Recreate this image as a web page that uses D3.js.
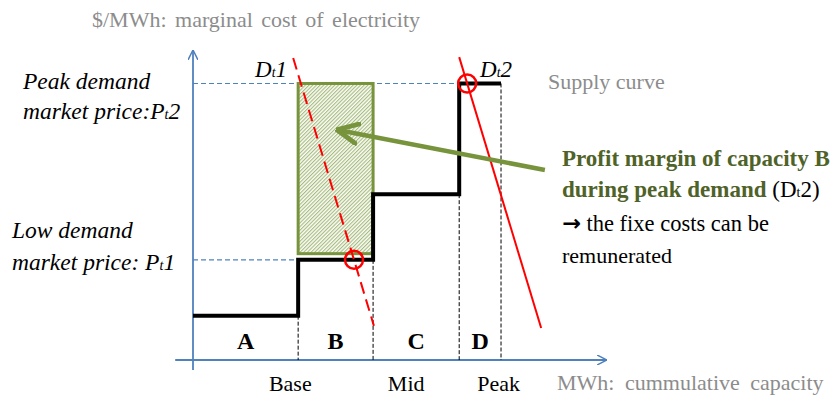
<!DOCTYPE html>
<html lang="en">
<head>
<meta charset="UTF-8">
<title>Supply curve</title>
<script src="https://d3js.org/d3.v7.min.js"></script>
<style>
    *{ margin: 0; padding: 0; }
    body{ background: #fff; }
</style>
</head>
<body>
<div id="content"></div>
<script>
    // capacity blocks (cumulative MWh, arbitrary units) and marginal cost ($/MWh)
    var blocks = ["A", "B", "C", "D"];
    var capBounds = [0, 25.4, 43.5, 64.3, 74.4];
    var costs = [14.3, 32.3, 53.5, 89.2];
    var priceLow = 32.3;   // Pt1
    var priceHigh = 89.2;  // Pt2
    var techLabels = ["Base", "Mid", "Peak"];
    var techPos = [23.5, 51.5, 73.8];
    // demand curves, [x, y] end points
    var demand1 = [[24.2, 97.4], [43.7, 11.0]];
    var demand2 = [[64.3, 97.7], [84.1, 10.3]];
    var arrowPts = [[85, 61.3], [35, 74.2]];

    var width = 835, height = 401;
    var serif = "'Liberation Serif', 'Times New Roman', 'DejaVu Serif', serif";
    var svg = d3.select("#content").append("svg")
        .attr("width", width).attr("height", height)
        .attr("font-family", serif);

    var xScale = d3.scaleLinear().domain([0, 100]).range([193, 607]);
    var yScale = d3.scaleLinear().domain([0, 100]).range([360, 50]);

    var defs = svg.append("defs");
    defs.append("marker").attr("id", "axArrow")
        .attr("viewBox", "0 0 10 10").attr("refX", 10).attr("refY", 5)
        .attr("markerWidth", 10).attr("markerHeight", 10)
        .attr("markerUnits", "userSpaceOnUse").attr("orient", "auto")
        .append("path").attr("d", "M0,0 L10,5 L0,10")
        .attr("fill", "none").attr("stroke", "#4f81bd").attr("stroke-width", 1.5);
    defs.append("marker").attr("id", "greenArrow")
        .attr("viewBox", "0 0 10 10").attr("refX", 9).attr("refY", 5)
        .attr("markerWidth", 24).attr("markerHeight", 24)
        .attr("markerUnits", "userSpaceOnUse").attr("orient", "auto")
        .append("path").attr("d", "M0,0.5 L9.5,5 L0,9.5")
        .attr("fill", "none").attr("stroke", "#77933c").attr("stroke-width", 2)
        .attr("stroke-linejoin", "miter");
    // fine diagonal hatch
    var pat = defs.append("pattern").attr("id", "hatch")
        .attr("patternUnits", "userSpaceOnUse").attr("width", 2.6).attr("height", 2.6)
        .attr("patternTransform", "rotate(45)");
    pat.append("rect").attr("width", 2.6).attr("height", 2.6).attr("fill", "#fbfcf7");
    pat.append("rect").attr("width", 1.1).attr("height", 2.6).attr("fill", "#a6bb7e");

    // axes
    svg.append("line")
        .attr("x1", xScale(-4.3)).attr("y1", yScale(0))
        .attr("x2", xScale(100)).attr("y2", yScale(0))
        .attr("stroke", "#4f81bd").attr("stroke-width", 1.8)
        .attr("marker-end", "url(#axArrow)");
    svg.append("line")
        .attr("x1", xScale(0)).attr("y1", yScale(-3.2))
        .attr("x2", xScale(0)).attr("y2", yScale(100))
        .attr("stroke", "#4f81bd").attr("stroke-width", 1.8)
        .attr("marker-end", "url(#axArrow)");

    // price reference lines
    svg.append("line")
        .attr("x1", xScale(0)).attr("x2", xScale(capBounds[3]))
        .attr("y1", yScale(priceHigh)).attr("y2", yScale(priceHigh))
        .attr("stroke", "#4f81bd").attr("stroke-width", 1.2).attr("stroke-dasharray", "5,3");
    svg.append("line")
        .attr("x1", xScale(0)).attr("x2", xScale(capBounds[1]))
        .attr("y1", yScale(priceLow)).attr("y2", yScale(priceLow))
        .attr("stroke", "#4f81bd").attr("stroke-width", 1.2).attr("stroke-dasharray", "5,3");

    // block separators
    svg.selectAll(".sep").data(d3.range(1, capBounds.length)).enter().append("line")
        .attr("class", "sep")
        .attr("x1", function(i){ return xScale(capBounds[i]); })
        .attr("x2", function(i){ return xScale(capBounds[i]); })
        .attr("y1", function(i){ return yScale(costs[i - 1]); })
        .attr("y2", yScale(0))
        .attr("stroke", "#000").attr("stroke-width", 1).attr("stroke-dasharray", "4,2");

    // profit margin box
    svg.append("rect")
        .attr("x", xScale(capBounds[1])).attr("y", yScale(priceHigh))
        .attr("width", xScale(capBounds[2]) - xScale(capBounds[1]))
        .attr("height", yScale(costs[1] + 2) - yScale(priceHigh))
        .attr("fill", "url(#hatch)").attr("stroke", "#77933c").attr("stroke-width", 3);

    // supply curve (step)
    var stepPts = [];
    blocks.forEach(function(b, i){
        stepPts.push([capBounds[i], costs[i]]);
        stepPts.push([capBounds[i + 1], costs[i]]);
    });
    var line = d3.line()
        .x(function(d){ return xScale(d[0]); })
        .y(function(d){ return yScale(d[1]); });
    svg.append("path").attr("d", line(stepPts))
        .attr("fill", "none").attr("stroke", "#000").attr("stroke-width", 4)
        .attr("stroke-linejoin", "miter");

    // demand curves
    svg.append("path").attr("d", line(demand1))
        .attr("stroke", "#ff0000").attr("stroke-width", 2).attr("stroke-dasharray", "12,6");
    svg.append("path").attr("d", line(demand2))
        .attr("stroke", "#ff0000").attr("stroke-width", 2);

    // intersections
    function crossX(dm, y){
        var t = (y - dm[0][1]) / (dm[1][1] - dm[0][1]);
        return dm[0][0] + t * (dm[1][0] - dm[0][0]);
    }
    [[crossX(demand1, priceLow), priceLow], [crossX(demand2, priceHigh), priceHigh]].forEach(function(p){
        svg.append("circle")
            .attr("cx", xScale(p[0])).attr("cy", yScale(p[1])).attr("r", 9)
            .attr("fill", "none").attr("stroke", "#ff0000").attr("stroke-width", 2.5);
    });

    // green arrow
    svg.append("path").attr("d", line(arrowPts))
        .attr("stroke", "#77933c").attr("stroke-width", 4.5)
        .attr("marker-end", "url(#greenArrow)");

    // block letters
    svg.selectAll(".blk").data(blocks).enter().append("text")
        .attr("class", "blk")
        .attr("x", function(d, i){ return (xScale(capBounds[i]) + xScale(capBounds[i + 1])) / 2; })
        .attr("y", yScale(0) - 11)
        .attr("text-anchor", "middle")
        .attr("font-size", 24).attr("font-weight", "bold")
        .text(function(d){ return d; });

    // technology labels under the axis
    svg.selectAll(".tech").data(techLabels).enter().append("text")
        .attr("class", "tech")
        .attr("x", function(d, i){ return xScale(techPos[i]); })
        .attr("y", 391)
        .attr("text-anchor", "middle")
        .attr("font-size", 22)
        .text(function(d){ return d; });

    // axis titles
    svg.append("text").attr("x", 92).attr("y", 27)
        .attr("font-size", 22).attr("fill", "#8c8c8c").attr("word-spacing", 3)
        .text("$/MWh: marginal cost of electricity");
    svg.append("text").attr("x", 557).attr("y", 390)
        .attr("font-size", 22).attr("fill", "#8c8c8c").attr("word-spacing", 5)
        .text("MWh: cummulative capacity");
    svg.append("text").attr("x", 548).attr("y", 89)
        .attr("font-size", 22).attr("fill", "#8c8c8c")
        .text("Supply curve");

    // helper for texts with a small subscript "t"
    function subText(x, y, parts, opts){
        var t = svg.append("text").attr("x", x).attr("y", y)
            .attr("font-size", opts.size)
            .attr("font-style", opts.italic ? "italic" : null)
            .attr("font-weight", opts.bold ? "bold" : null)
            .attr("fill", opts.color || "#000");
        parts.forEach(function(p){
            var s = t.append("tspan").text(p.t);
            if (p.small) s.attr("font-size", opts.size * 0.6);
            if (p.fill) s.attr("fill", p.fill).attr("font-weight", "normal");
            if (p.font) s.attr("font-family", p.font).attr("font-weight", "bold");
        });
        return t;
    }

    subText(23, 89, [{t: "Peak demand"}], {size: 23.5, italic: true});
    subText(23, 119, [{t: "market price:P"}, {t: "t", small: true}, {t: "2"}], {size: 23.5, italic: true});
    subText(12, 238, [{t: "Low demand"}], {size: 23.5, italic: true});
    subText(12, 270, [{t: "market price: P"}, {t: "t", small: true}, {t: "1"}], {size: 23.5, italic: true});
    subText(255, 77, [{t: "D"}, {t: "t", small: true}, {t: "1"}], {size: 23, italic: true});
    subText(480, 77, [{t: "D"}, {t: "t", small: true}, {t: "2"}], {size: 23, italic: true});

    subText(562, 166, [{t: "Profit margin of capacity B"}], {size: 23, bold: true, color: "#4f6228"});
    subText(562, 197, [{t: "during peak demand "}, {t: "(D", fill: "#000"}, {t: "t", small: true, fill: "#000"}, {t: "2)", fill: "#000"}], {size: 23, bold: true, color: "#4f6228"});
    subText(562, 231, [{t: "\u2192", font: "'DejaVu Sans', sans-serif"}, {t: " the fixe costs can be"}], {size: 22.5});
    subText(562, 263, [{t: "remunerated"}], {size: 22});
</script>
</body>
</html>
